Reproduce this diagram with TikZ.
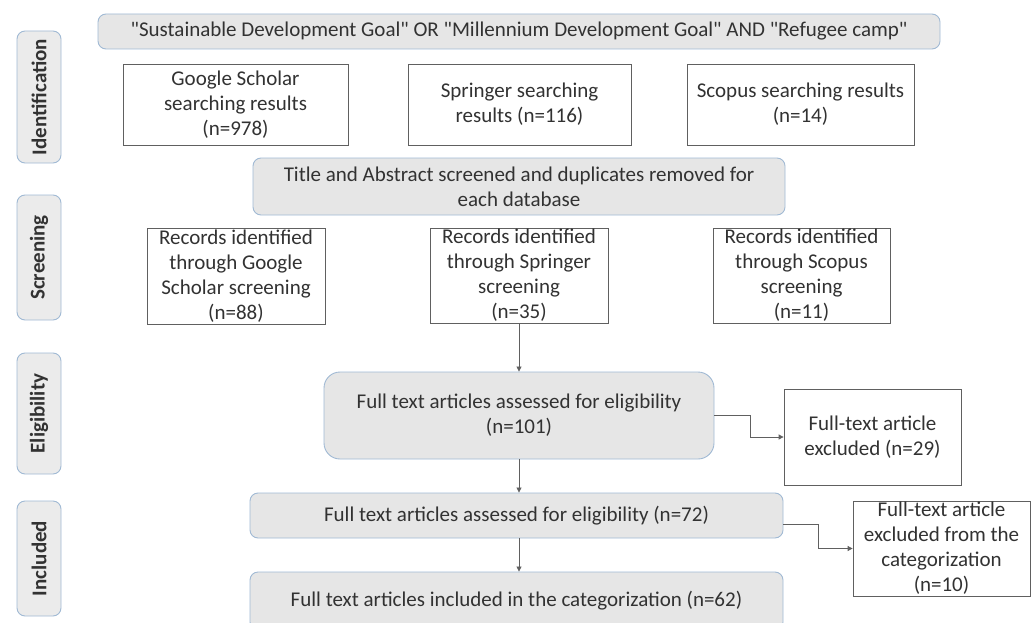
\documentclass[tikz,border=0pt]{standalone}
\usepackage{fontspec}
\setmainfont{Carlito}
\usepackage{tikz}
\usetikzlibrary{arrows.meta,positioning}
\definecolor{prtext}{RGB}{50,50,50}
\definecolor{prgray}{RGB}{230,230,230}
\definecolor{prblue}{RGB}{160,185,212}
\definecolor{prline}{RGB}{96,96,96}
\newcommand{\qt}{\textquotedbl}

\begin{document}
\begin{tikzpicture}[x=1pt, y=-1pt,
  font=\fontsize{21}{25}\selectfont, text=prtext,
  graybox/.style={draw=prblue, fill=prgray, line width=0.9pt, rounded corners=8pt,
    align=center, inner sep=1pt},
  whitebox/.style={draw=prline, fill=white, line width=0.8pt, align=center, inner sep=1pt},
  stagebox/.style={draw=prblue, fill=prgray!80, line width=0.9pt, rounded corners=8pt,
    minimum height=44pt, rotate=90, font=\fontsize{21}{25}\selectfont\bfseries},
  arr/.style={-{Triangle[length=5pt,width=5pt]}, prline, line width=0.8pt}]
\useasboundingbox (0,0) rectangle (1035,623);
% --- Stage labels on the left ---
\node[stagebox, minimum width=132pt] (lid) at (39,97) {Identification};
\node[stagebox, minimum width=125pt] (lscr) at (39,257.5) {Screening};
\node[stagebox, minimum width=121pt] (lelig) at (39,413.5) {Eligibility};
\node[stagebox, minimum width=115pt] (lincl) at (39,558.5) {Included};
% --- Identification ---
\node[graybox, minimum width=842pt, minimum height=35pt] (query) at (519,31.5)
  {\qt Sustainable Development Goal\qt{} OR \qt Millennium Development Goal\qt{} AND \qt Refugee camp\qt};
\node[whitebox, minimum width=225pt, minimum height=81pt] (gs) at (235.5,104.5)
  {Google Scholar\\searching results\\(n=978)};
\node[whitebox, minimum width=223pt, minimum height=81pt] (spr) at (519.5,104.5)
  {Springer searching\\results (n=116)};
\node[whitebox, minimum width=227pt, minimum height=81pt] (sco) at (800.5,104.5)
  {Scopus searching results\\(n=14)};
% --- Screening ---
\node[graybox, minimum width=532pt, minimum height=57pt] (screen) at (519,186.5)
  {Title and Abstract screened and duplicates removed for\\each database};
\node[whitebox, minimum width=178pt, minimum height=96pt] (rgs) at (236,276)
  {Records identified\\through Google\\Scholar screening\\(n=88)};
\node[whitebox, minimum width=178pt, minimum height=95pt] (rspr) at (519,275.5)
  {Records identified\\through Springer\\screening\\(n=35)};
\node[whitebox, minimum width=177pt, minimum height=95pt] (rsco) at (801.5,275.5)
  {Records identified\\through Scopus\\screening\\(n=11)};
% --- Eligibility ---
\node[graybox, rounded corners=16pt, minimum width=390pt, minimum height=87pt] (elig) at (519,415.5)
  {Full text articles assessed for eligibility\\(n=101)};
\node[whitebox, minimum width=177pt, minimum height=96pt] (excl1) at (872.5,437)
  {Full-text article\\excluded (n=29)};
% --- Included ---
\node[graybox, minimum width=533pt, minimum height=45pt] (incl) at (516.5,515.5)
  {Full text articles assessed for eligibility (n=72)};
\node[whitebox, minimum width=177pt, minimum height=95pt] (excl2) at (941.5,548.5)
  {Full-text article\\excluded from the\\categorization\\(n=10)};
\node[graybox, minimum width=533pt, minimum height=58pt] (final) at (516.5,601)
  {Full text articles included in the categorization (n=62)};
% Arrows
\draw[arr] (rspr.south) -- (elig.north);
\draw[arr] (elig.south) -- (elig.south |- incl.north);
\draw[arr] (elig.south |- incl.south) -- (elig.south |- final.north);
\draw[arr] (elig.east) -- ++(36,0) |- (excl1.west);
\draw[arr] ([yshift=-9pt]incl.east) -- ++(35,0) |- (excl2.west);
\end{tikzpicture}
\end{document}
